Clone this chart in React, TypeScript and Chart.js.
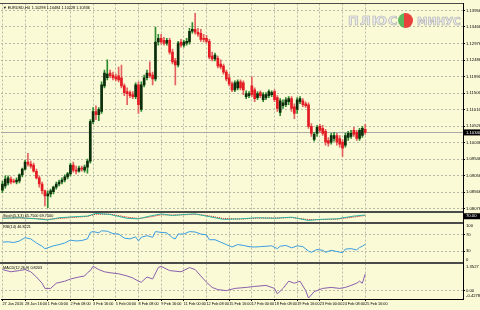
import React, { useEffect, useRef } from "react";
import { Chart, registerables } from "chart.js";

Chart.register(...registerables);

// ---------------- data ----------------
const symbolHeader = "EURUSD,H4  1.10298 1.10484 1.10228 1.10336";
const stochHeader = "Stoch(5,3,3) 65.7500 69.7500";
const rsiHeader = "RSI(14) 46.8221";
const oscHeader = "MACD(12,26,9) 0.8203";

const opens = [
  1.0863, 1.0875, 1.0884, 1.0896, 1.089, 1.0887, 1.089, 1.0908, 1.0925, 1.0946,
  1.094, 1.0937, 1.0919, 1.0899, 1.0881, 1.0861, 1.0846, 1.0852, 1.0858, 1.0872,
  1.0881, 1.0887, 1.0893, 1.0902, 1.0911, 1.0937, 1.0922, 1.0919, 1.0928, 1.0922,
  1.0931, 1.0949, 1.1066, 1.1096, 1.1087, 1.1096, 1.1172, 1.1196, 1.121, 1.1204,
  1.1199, 1.1202, 1.1196, 1.1172, 1.1155, 1.1152, 1.1146, 1.114, 1.1175, 1.1102,
  1.1175, 1.1196, 1.121, 1.1204, 1.1193, 1.1302, 1.1313, 1.1307, 1.1299, 1.1307,
  1.1272, 1.1246, 1.1234, 1.1302, 1.1293, 1.1299, 1.1302, 1.1334, 1.134, 1.1331,
  1.1328, 1.1313, 1.1313, 1.1304, 1.126, 1.1252, 1.1254, 1.1237, 1.1231, 1.1213,
  1.1196, 1.1178, 1.116, 1.1166, 1.1184, 1.1181, 1.114, 1.1143, 1.1172, 1.116,
  1.1137, 1.1152, 1.1131, 1.1137, 1.1143, 1.1146, 1.1155, 1.1137, 1.1093, 1.1113,
  1.1116, 1.1125, 1.1134, 1.111, 1.1102, 1.1125, 1.1128, 1.1119, 1.1116, 1.1052,
  1.1013, 1.1031, 1.1052, 1.1046, 1.1037, 1.101, 1.1005, 1.1016, 1.1025, 1.1016,
  1.1005, 1.0996, 1.1019, 1.1022, 1.104, 1.1034, 1.1016, 1.1025, 1.1043,
];
const highs = [
  1.089, 1.0905, 1.0905, 1.0902, 1.0896, 1.0899, 1.0911, 1.0928, 1.0952, 1.0972,
  1.0949, 1.0943, 1.0925, 1.0905, 1.0887, 1.0863, 1.0861, 1.0866, 1.0875, 1.0887,
  1.0893, 1.0899, 1.0908, 1.0916, 1.0943, 1.0946, 1.0934, 1.0934, 1.0934, 1.0937,
  1.0955, 1.1072, 1.1108, 1.1113, 1.1108, 1.1184, 1.1219, 1.1249, 1.1219, 1.1213,
  1.1207, 1.1228, 1.1234, 1.1178, 1.1166, 1.1157, 1.1155, 1.1181, 1.1184, 1.1184,
  1.1204, 1.1219, 1.1243, 1.1213, 1.1346, 1.1325, 1.1325, 1.1316, 1.1313, 1.1313,
  1.1281, 1.1254, 1.1304, 1.131, 1.1307, 1.1313, 1.1343, 1.136, 1.1387, 1.1343,
  1.134, 1.1325, 1.1322, 1.131, 1.1272, 1.1269, 1.126, 1.1249, 1.1237, 1.1219,
  1.1207, 1.1184, 1.1187, 1.119, 1.119, 1.1187, 1.1157, 1.1155, 1.1199, 1.1166,
  1.1155, 1.1157, 1.1152, 1.1152, 1.116, 1.1157, 1.116, 1.1143, 1.1134, 1.1131,
  1.1137, 1.114, 1.114, 1.1119, 1.1137, 1.114, 1.1134, 1.1125, 1.1122, 1.106,
  1.1034, 1.1055, 1.1058, 1.1055, 1.1043, 1.1019, 1.1031, 1.1034, 1.1031, 1.1025,
  1.1013, 1.1031, 1.1037, 1.104, 1.1049, 1.104, 1.1046, 1.1052, 1.1058,
];
const lows = [
  1.0855, 1.0869, 1.0878, 1.0881, 1.0884, 1.0881, 1.0884, 1.0902, 1.0922, 1.0934,
  1.0928, 1.0916, 1.0896, 1.0872, 1.0852, 1.0816, 1.0811, 1.0843, 1.0852, 1.0866,
  1.0875, 1.0881, 1.0887, 1.0896, 1.0905, 1.0916, 1.0911, 1.0916, 1.0919, 1.0916,
  1.0913, 1.0943, 1.106, 1.1072, 1.1069, 1.109, 1.1166, 1.119, 1.1196, 1.119,
  1.1187, 1.1184, 1.1166, 1.1143, 1.1116, 1.1137, 1.1134, 1.1134, 1.109, 1.1096,
  1.1169, 1.119, 1.1196, 1.1175, 1.1187, 1.1293, 1.1296, 1.1293, 1.1293, 1.1266,
  1.1237, 1.1175, 1.1228, 1.1287, 1.1287, 1.1293, 1.1296, 1.1328, 1.1325, 1.1319,
  1.1304, 1.1302, 1.1299, 1.1252, 1.1246, 1.1246, 1.1225, 1.1222, 1.1207, 1.1187,
  1.1172, 1.1155, 1.1155, 1.116, 1.116, 1.1146, 1.1134, 1.1137, 1.114, 1.1125,
  1.1131, 1.1137, 1.1125, 1.1131, 1.1137, 1.114, 1.1125, 1.1096, 1.1084, 1.1105,
  1.111, 1.1116, 1.1096, 1.1075, 1.109, 1.1119, 1.111, 1.1108, 1.1046, 1.1022,
  1.1008, 1.1022, 1.1034, 1.1025, 1.0996, 1.0993, 1.0999, 1.1008, 1.0996, 1.099,
  1.0963, 1.099, 1.101, 1.1016, 1.1022, 1.101, 1.101, 1.1019, 1.1028,
];
const closes = [
  1.0881, 1.0896, 1.0899, 1.0887, 1.0887, 1.0893, 1.0908, 1.0925, 1.0946, 1.094,
  1.0934, 1.0919, 1.0899, 1.0881, 1.0861, 1.0846, 1.0852, 1.0861, 1.0872, 1.0881,
  1.0887, 1.0893, 1.0902, 1.0911, 1.0937, 1.0922, 1.0919, 1.0928, 1.0925, 1.0931,
  1.0949, 1.1066, 1.1096, 1.1087, 1.1102, 1.1175, 1.121, 1.1207, 1.1202, 1.1196,
  1.1193, 1.119, 1.1172, 1.1152, 1.1149, 1.1143, 1.114, 1.1175, 1.1116, 1.1175,
  1.1196, 1.121, 1.1202, 1.1193, 1.1302, 1.1313, 1.1302, 1.1299, 1.1307, 1.1272,
  1.1243, 1.1234, 1.1299, 1.1293, 1.1302, 1.1304, 1.1334, 1.134, 1.1331, 1.1325,
  1.131, 1.131, 1.1304, 1.1257, 1.1252, 1.1263, 1.1231, 1.1228, 1.1213, 1.1193,
  1.1178, 1.116, 1.1181, 1.1184, 1.1166, 1.116, 1.1149, 1.1149, 1.1146, 1.1134,
  1.1149, 1.1143, 1.1146, 1.1146, 1.1155, 1.1152, 1.1131, 1.1105, 1.1128, 1.1122,
  1.1131, 1.1134, 1.1105, 1.109, 1.1131, 1.1134, 1.1116, 1.1113, 1.1052, 1.1031,
  1.1028, 1.1049, 1.104, 1.1031, 1.1005, 1.1002, 1.1025, 1.1025, 1.1005, 1.0999,
  1.0987, 1.1025, 1.1031, 1.1031, 1.1028, 1.1016, 1.104, 1.1046, 1.1034,
];

const slotCount = 163;
const xTickIndex = [0, 8, 16, 24, 32, 40, 48, 56, 64, 72, 80, 88, 96, 104, 112, 120, 128];
const xTickLabels = [
  "27 Jan 2016", "28 Jan 16:00", "1 Feb 00:00", "2 Feb 08:00", "3 Feb 16:00",
  "5 Feb 00:00", "8 Feb 08:00", "9 Feb 16:00", "11 Feb 00:00", "12 Feb 08:00",
  "15 Feb 16:00", "17 Feb 00:00", "18 Feb 08:00", "19 Feb 16:00", "23 Feb 00:00",
  "24 Feb 08:00", "25 Feb 16:00",
];
const priceTicks = [
  1.13956, 1.13466, 1.12976, 1.12486, 1.11996, 1.11506, 1.11016,
  1.10526, 1.10036, 1.09546, 1.09056, 1.08566, 1.08076,
];

const stochIdx = [0, 6, 12, 16, 20, 26, 30, 33, 38, 44, 48, 52, 56, 60, 64, 68, 72, 78, 84, 90, 96, 102, 108, 112, 118, 124, 128];
const stochMain = [40, 45, 35, 25, 45, 55, 60, 85, 75, 40, 35, 60, 80, 65, 75, 80, 60, 30, 35, 45, 40, 50, 20, 30, 35, 60, 70];
const stochSignal = [42, 43, 38, 30, 38, 50, 58, 78, 78, 50, 38, 52, 72, 70, 72, 77, 66, 38, 33, 42, 42, 47, 28, 28, 32, 52, 66];

const rsiIdx = [0, 2, 4, 6, 8, 10, 12, 14, 15, 16, 18, 20, 22, 24, 26, 28, 30, 31, 32, 34, 35, 37, 39, 41, 43, 45, 47, 48, 49, 51, 53, 54, 56, 58, 60, 61, 62, 64, 66, 68, 70, 72, 73, 75, 77, 79, 81, 83, 85, 87, 89, 91, 93, 95, 97, 98, 100, 102, 104, 106, 108, 109, 111, 113, 114, 116, 118, 120, 121, 123, 125, 126, 127, 128];
const rsiVals = [52, 53, 51, 55, 63, 60, 50, 42, 36, 38, 43, 46, 50, 57, 55, 56, 60, 76, 78, 75, 80, 79, 73, 72, 62, 60, 65, 55, 64, 68, 64, 78, 76, 75, 63, 60, 72, 72, 78, 77, 72, 70, 58, 58, 52, 46, 40, 46, 44, 41, 40, 41, 42, 43, 36, 42, 44, 38, 43, 41, 30, 27, 34, 32, 27, 32, 29, 26, 35, 36, 33, 39, 42, 46.82];
const rsiAxisTicks = [100, 70, 30, 0];

const oscIdx = [0, 3, 6, 8, 10, 12, 14, 15, 17, 19, 22, 24, 27, 29, 30, 31, 32, 34, 36, 38, 41, 44, 46, 48, 49, 51, 53, 55, 56, 59, 63, 66, 68, 70, 72, 74, 76, 79, 82, 86, 89, 93, 96, 97, 99, 101, 103, 105, 107, 108, 110, 113, 116, 119, 121, 123, 125, 126, 127, 128];
const oscVals = [1.04, 0.93, 0.99, 1.04, 0.93, 0.67, 0.36, 0.1, 0.1, 0.36, 0.46, 0.57, 0.67, 0.72, 0.88, 0.99, 1.2, 1.04, 0.93, 0.88, 0.83, 0.72, 0.62, 0.46, 0.41, 0.67, 0.57, 1.14, 1.2, 0.99, 0.93, 1.14, 1.04, 0.72, 0.41, 0.15, 0.04, -0.01, 0.1, 0.15, 0.2, 0.25, 0.1, -0.17, 0.1, 0.46, 0.36, 0.46, -0.01, -0.38, -0.06, 0.1, 0.15, 0.1, 0.15, 0.25, 0.36, 0.46, 0.36, 0.8203];
const oscAxisTicks = [1.3527, 0, -0.4278];
const oscAxisLabels = ["1.3527", "0.00", "-0.4278"];

// ---------------- styles ----------------
const BG = "#fafad6";
const GRID = "#b9b9a8";
const FONT = "'Liberation Sans', Arial, sans-serif";
const bullBody = "#0c2e0c";
const bullWick = "#2f8a2f";
const bearBody = "#e41b22";
const bearWick = "#e56060";

const mt4Overlay = {
  id: "mt4Overlay",
  beforeDatasetsDraw(chart: any) {
    const { ctx, chartArea: a, scales } = chart;
    const y = Math.round(scales.yMain.getPixelForValue(closes[closes.length - 1])) + 0.5;
    ctx.save();
    ctx.strokeStyle = "#a9a9a9";
    ctx.lineWidth = 1;
    ctx.beginPath();
    ctx.moveTo(a.left, y);
    ctx.lineTo(a.right, y);
    ctx.stroke();
    ctx.restore();
  },
  afterDraw(chart: any) {
    const { ctx, chartArea: a, scales } = chart;
    ctx.save();
    // panel separators
    ctx.fillStyle = "#4b4b4b";
    for (const id of ["yStoch", "yRsi", "yOsc"]) {
      const t = Math.round(scales[id].top);
      ctx.fillRect(0, t - 1, a.right, 2);
    }
    ctx.fillRect(0, Math.round(a.top) - 1, a.right, 1);
    // panel labels
    ctx.fillStyle = "#000";
    ctx.textBaseline = "middle";
    ctx.textAlign = "left";
    ctx.font = `3.8px ${FONT}`;
    ctx.fillText("\u25BC " + symbolHeader, a.left + 2, a.top + 4);
    ctx.fillText(stochHeader, a.left + 2, scales.yStoch.top + 4);
    ctx.fillText(rsiHeader, a.left + 2, scales.yRsi.top + 4.5);
    ctx.fillText(oscHeader, a.left + 2, scales.yOsc.top + 4.5);
    // sub-panel axis labels (kept inside their panel like MT4)
    ctx.font = `4.2px ${FONT}`;
    const axisX = a.right + 3;
    const clampLabel = (sc: any, v: number, txt: string) => {
      let y = sc.getPixelForValue(v);
      y = Math.max(sc.top + 3.5, Math.min(sc.bottom - 3, y));
      ctx.fillText(txt, axisX, y);
    };
    rsiAxisTicks.forEach((v) => clampLabel(scales.yRsi, v, String(v)));
    oscAxisTicks.forEach((v, i) => clampLabel(scales.yOsc, v, oscAxisLabels[i]));
    // current value boxes
    const drawBox = (sc: any, v: number, txt: string) => {
      let y = sc.getPixelForValue(v);
      y = Math.max(sc.top + 4.5, Math.min(sc.bottom - 3, y));
      ctx.fillStyle = "#000";
      ctx.fillRect(a.right + 1, y - 3, 480 - a.right, 6);
      ctx.fillStyle = "#fff";
      ctx.fillText(txt, a.right + 3, y);
    };
    drawBox(scales.yMain, closes[closes.length - 1], closes[closes.length - 1].toFixed(5));
    const lastStoch = stochMain[stochMain.length - 1];
    drawBox(scales.yStoch, lastStoch, lastStoch.toFixed(2));
    ctx.restore();
  },
};

export default function App() {
  const ref = useRef<HTMLCanvasElement | null>(null);

  useEffect(() => {
    if (!ref.current) return;
    const isBull = closes.map((c, i) => c >= opens[i]);
    const wickData = highs.map((h, i) => ({ x: i, y: [lows[i], h] }));
    const bodyData = opens.map((o, i) => ({ x: i, y: [o, closes[i]] }));
    const pts = (idx: number[], vals: number[]) => idx.map((x, i) => ({ x, y: vals[i] }));

    const yBase = (weight: number) => ({
      type: "linear" as const,
      position: "right" as const,
      stack: "panes",
      stackWeight: weight,
      afterFit: (sc: any) => {
        sc.width = 17;
      },
    });

    const chart = new Chart(ref.current, {
      type: "bar",
      data: {
        datasets: [
          {
            type: "bar",
            data: wickData as any,
            xAxisID: "x",
            yAxisID: "yMain",
            backgroundColor: isBull.map((b) => (b ? bullWick : bearWick)),
            barThickness: 1,
            grouped: false,
            borderWidth: 0,
            order: 5,
          },
          {
            type: "bar",
            data: bodyData as any,
            xAxisID: "x",
            yAxisID: "yMain",
            backgroundColor: isBull.map((b) => (b ? bullBody : bearBody)),
            barThickness: 2,
            minBarLength: 1,
            grouped: false,
            borderWidth: 0,
            order: 4,
          },
          {
            type: "line",
            data: pts(stochIdx, stochSignal) as any,
            xAxisID: "x",
            yAxisID: "yStoch",
            borderColor: "#e00000",
            borderDash: [1, 1],
            borderWidth: 1,
            pointRadius: 0,
            order: 3,
          },
          {
            type: "line",
            data: pts(stochIdx, stochMain) as any,
            xAxisID: "x",
            yAxisID: "yStoch",
            borderColor: "#2cb3a0",
            borderWidth: 1,
            pointRadius: 0,
            order: 2,
          },
          {
            type: "line",
            data: pts(rsiIdx, rsiVals) as any,
            xAxisID: "x",
            yAxisID: "yRsi",
            borderColor: "#3a9de0",
            borderWidth: 1,
            pointRadius: 0,
            order: 1,
          },
          {
            type: "line",
            data: pts(oscIdx, oscVals) as any,
            xAxisID: "x",
            yAxisID: "yOsc",
            borderColor: "#8a5fae",
            borderWidth: 1,
            pointRadius: 0,
            order: 0,
          },
        ],
      },
      options: {
        responsive: false,
        animation: false,
        events: [],
        layout: { padding: { top: 1, left: 1, right: 0, bottom: 0 } },
        plugins: { legend: { display: false }, tooltip: { enabled: false } },
        scales: {
          x: {
            type: "linear",
            offset: false,
            min: -0.5,
            max: slotCount - 0.5,
            afterBuildTicks: (sc: any) => {
              sc.ticks = xTickIndex.map((v) => ({ value: v }));
            },
            afterFit: (sc: any) => {
              sc.height = 11;
            },
            ticks: {
              autoSkip: false,
              maxRotation: 0,
              minRotation: 0,
              align: "start",
              padding: 1,
              color: "#000",
              font: { size: 3.8, family: FONT },
              callback: (v: any) => {
                const k = xTickIndex.indexOf(Number(v));
                return k >= 0 ? xTickLabels[k] : "";
              },
            },
            grid: { offset: false, color: GRID, lineWidth: 1, drawTicks: true, tickLength: 2, tickColor: "#000", tickBorderDash: [] },
            border: { display: true, color: "#000", width: 1, dash: [2, 2] },
          },
          yMain: {
            ...yBase(210),
            min: 1.07988,
            max: 1.14162,
            afterBuildTicks: (sc: any) => {
              sc.ticks = priceTicks.map((v) => ({ value: v }));
            },
            ticks: {
              padding: 1,
              color: "#000",
              font: { size: 4.2, family: FONT },
              callback: (v: any) => Number(v).toFixed(5),
            },
            grid: { color: GRID, lineWidth: 1, drawTicks: true, tickLength: 2, tickColor: "#000", tickBorderDash: [] },
            border: { display: true, color: "#000", width: 1, dash: [2, 2] },
          },
          yStoch: {
            ...yBase(11),
            min: 0,
            max: 100,
            ticks: { display: false },
            grid: { display: false },
            border: { display: true, color: "#000", width: 1 },
          },
          yRsi: {
            ...yBase(41),
            min: 0,
            max: 100,
            afterBuildTicks: (sc: any) => {
              sc.ticks = [70, 30].map((v) => ({ value: v }));
            },
            ticks: { display: false },
            grid: { color: GRID, lineWidth: 1, drawTicks: true, tickLength: 2, tickColor: "#000", tickBorderDash: [] },
            border: { display: true, color: "#000", width: 1, dash: [2, 2] },
          },
          yOsc: {
            ...yBase(36),
            min: -0.4278,
            max: 1.3527,
            afterBuildTicks: (sc: any) => {
              sc.ticks = [0].map((v) => ({ value: v }));
            },
            ticks: { display: false },
            grid: { color: GRID, lineWidth: 1, drawTicks: true, tickLength: 2, tickColor: "#000", tickBorderDash: [] },
            border: { display: true, color: "#000", width: 1, dash: [2, 2] },
          },
        } as any,
      },
      plugins: [mt4Overlay],
    });
    return () => chart.destroy();
  }, []);

  const wmText: React.CSSProperties = {
    position: "absolute",
    fontFamily: "'DejaVu Sans', sans-serif",
    fontWeight: 700,
    lineHeight: "12px",
    color: "#ececec",
    WebkitTextStroke: "0.7px #b5b5b5",
    whiteSpace: "nowrap",
  };

  return (
    <div style={{ position: "fixed", left: 0, top: 0, width: 480, height: 310, background: BG, overflow: "hidden" }}>
      <canvas ref={ref} width={480} height={310} style={{ display: "block", width: 480, height: 310 }} />
      <div style={{ ...wmText, left: 348, top: 15, fontSize: 13, letterSpacing: 1 }}>ПЛЮС</div>
      <div
        style={{
          position: "absolute",
          left: 398,
          top: 13,
          width: 15,
          height: 15,
          borderRadius: "50%",
          background: "linear-gradient(90deg, #5cb85c 0%, #5cb85c 42%, #e8413c 42%, #e8413c 100%)",
        }}
      />
      <div style={{ ...wmText, left: 417, top: 15, fontSize: 10.5, letterSpacing: 0 }}>МИНУС</div>
    </div>
  );
}
